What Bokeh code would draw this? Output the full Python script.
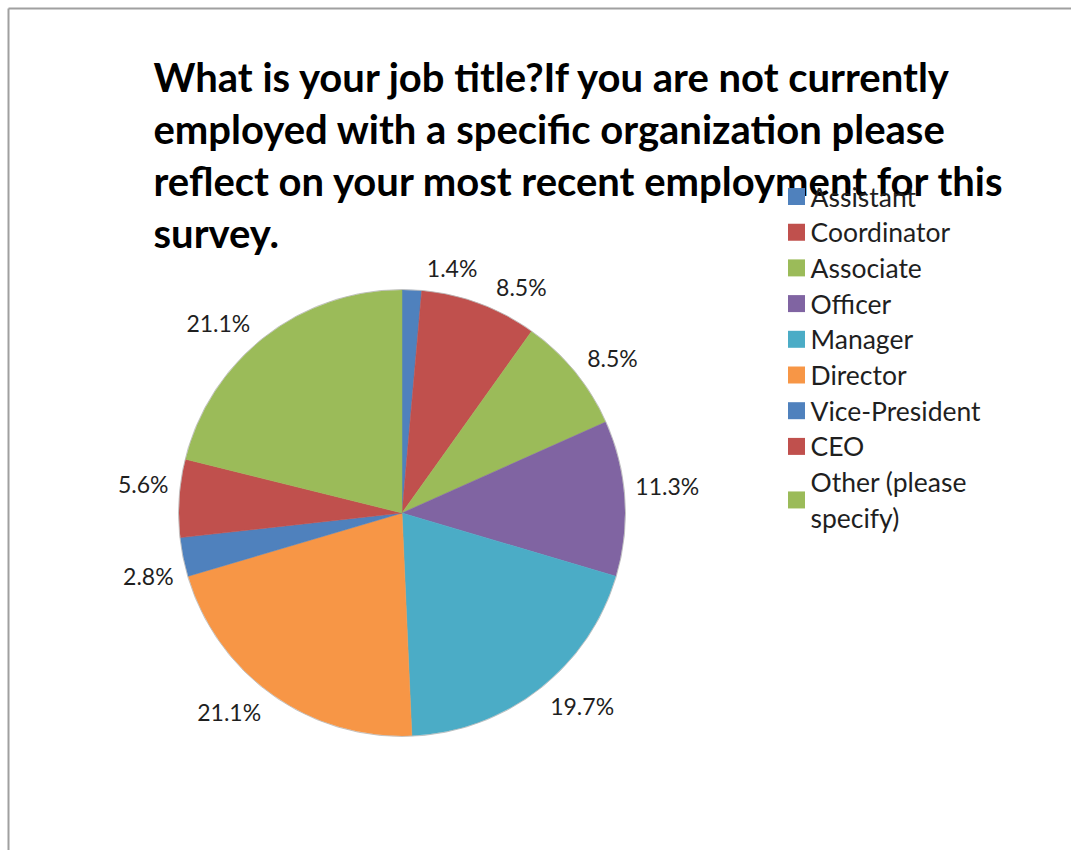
import math
from bokeh.plotting import figure
from bokeh.models import Range1d, ColumnDataSource
from bokeh.core.properties import value
from bokeh.embed import file_html
from bokeh.resources import INLINE

# ---- data ----
categories = ["Assistant", "Coordinator", "Associate", "Officer", "Manager",
              "Director", "Vice-President", "CEO", "Other (please specify)"]
counts = [1, 6, 6, 8, 14, 15, 2, 4, 15]
colors = ["#4F81BD", "#C0504D", "#9BBB59", "#8064A2", "#4BACC6",
          "#F79646", "#4F81BD", "#C0504D", "#9BBB59"]
title_lines = ["What is your job title?If you are not currently",
               "employed with a specific organization please",
               "reflect on your most recent employment for this",
               "survey."]
legend_lines = [["Assistant"], ["Coordinator"], ["Associate"], ["Officer"],
                ["Manager"], ["Director"], ["Vice-President"], ["CEO"],
                ["Other (please", "specify)"]]
# label placement nudges (degrees), mimicking Excel's best-fit shifts
label_nudge = [9, 7.5, 3, -2, -5, 5.5, -2.5, 2.5, -6]

# ---- layout ----
W, H = 1071, 850
CX, CY_PIX, R = 401.5, 512.5, 223
FONT = "Lato"

p = figure(width=W, height=H, x_range=Range1d(0, W), y_range=Range1d(0, H),
           output_backend="svg", toolbar_location=None, min_border=0,
           x_axis_location=None, y_axis_location=None)
p.grid.visible = False
p.outline_line_color = None
p.background_fill_color = "white"
p.border_fill_color = "white"

def Y(ypix):
    return H - ypix

# frame lines
p.multi_line(xs=[[8, 8], [8, W]], ys=[[Y(8), 0], [Y(8), Y(8)]],
             line_color="#a0a0a0", line_width=2)

# pie
total = sum(counts)
fracs = [c / total for c in counts]
starts, ends, cum = [], [], 0.0
for f in fracs:
    starts.append(math.pi / 2 - 2 * math.pi * cum)
    cum += f
    ends.append(math.pi / 2 - 2 * math.pi * cum)
src = ColumnDataSource(dict(x=[CX] * len(counts), y=[Y(CY_PIX)] * len(counts),
                            start=starts, end=ends, color=colors))
p.wedge(x="x", y="y", radius=R, radius_units="screen", start_angle="start",
        end_angle="end", direction="clock", fill_color="color",
        line_color="color", line_width=0.5, source=src)
p.scatter(x=[CX], y=[Y(CY_PIX)], size=2 * R + 1, marker="circle",
          fill_color=None, line_color="#b8b8b8", line_width=0.8)

# percentage labels
LFS = 23
lx, ly, lt = [], [], []
cum = 0.0
for i, f in enumerate(fracs):
    mid = (cum + f / 2) * 360.0
    cum += f
    txt = f"{100 * f:.1f}%"
    th = math.radians(mid + label_nudge[i])
    w = 0.55 * LFS * len(txt)
    h = LFS
    dist = R + 11 + abs(math.sin(th)) * w / 2 + abs(math.cos(th)) * h / 2
    lx.append(CX + dist * math.sin(th))
    ly.append(Y(CY_PIX - dist * math.cos(th)))
    lt.append(txt)
p.text(x=lx, y=ly, text=lt, text_align="center", text_baseline="middle",
       text_font=value(FONT), text_font_size=f"{LFS}px", text_color="#1f1f1f")

# title
for i, line in enumerate(title_lines):
    p.text(x=[153], y=[Y(76 + 52 * i)], text=[line], text_align="left",
           text_baseline="alphabetic", text_font=value(FONT),
           text_font_size="40px", text_font_style="bold", text_color="black")

# legend
sq_x, sq_y, sq_c, tx, ty, tt = [], [], [], [], [], []
for i, lines in enumerate(legend_lines):
    y0 = 196 + 35.7 * i
    n = len(lines)
    sq_x.append(796)
    sq_y.append(Y(y0 + 35.7 * (n - 1) / 2))
    sq_c.append(colors[i])
    for k, ln in enumerate(lines):
        tx.append(810)
        ty.append(Y(y0 + 35.7 * k))
        tt.append(ln)
p.scatter(x=sq_x, y=sq_y, marker="square", size=17, fill_color=sq_c,
          line_color=None)
p.text(x=tx, y=ty, text=tt, text_align="left", text_baseline="middle",
       text_font=value(FONT), text_font_size="26.5px", text_color="#1f1f1f")

open("out.html", "w").write(file_html(p, INLINE))
